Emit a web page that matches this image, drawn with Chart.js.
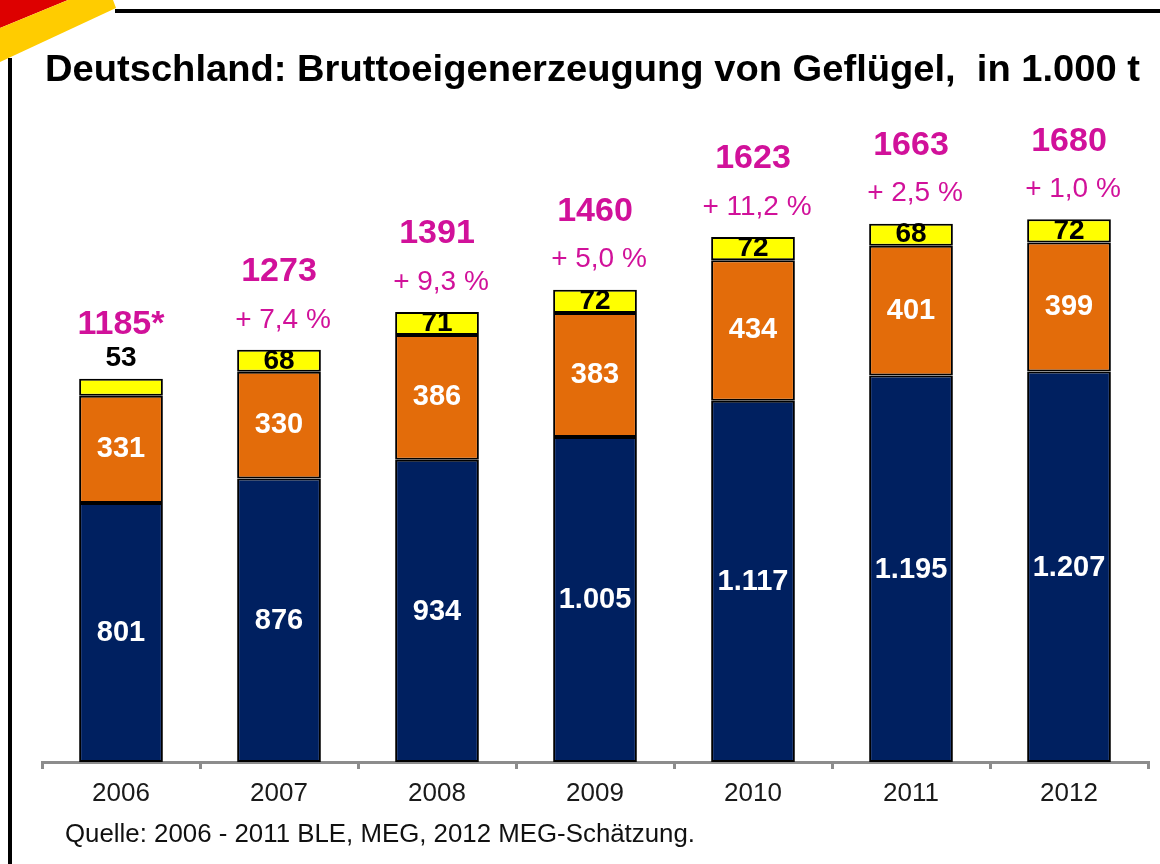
<!DOCTYPE html>
<html>
<head>
<meta charset="utf-8">
<script src="https://cdn.jsdelivr.net/npm/chart.js@4"></script>
<style>
  body { margin: 0; background: #fff; }
  canvas { display: block; }
</style>
</head>
<body>
<canvas id="myChart" width="1160" height="864"></canvas>
<script>
// Data (1.000 t)
const years = ['2006', '2007', '2008', '2009', '2010', '2011', '2012'];
const blueValues = [801, 876, 934, 1005, 1117, 1195, 1207];
const orangeValues = [331, 330, 386, 383, 434, 401, 399];
const yellowValues = [53, 68, 71, 72, 72, 68, 72];
const totalLabels = ['1185*', '1273', '1391', '1460', '1623', '1663', '1680'];
const changeLabels = ['', '+ 7,4 %', '+ 9,3 %', '+ 5,0 %', '+ 11,2 %', '+ 2,5 %', '+ 1,0 %'];

const titleText = 'Deutschland: Bruttoeigenerzeugung von Geflügel,  in 1.000 t';
const sourceText = 'Quelle: 2006 - 2011 BLE, MEG, 2012 MEG-Schätzung.';

const FONT = 'Arial, "Liberation Sans", sans-serif';
const MAGENTA = '#d1119a';

function fmt(v) {
    return v >= 1000 ? Math.floor(v / 1000) + '.' + String(v % 1000).padStart(3, '0') : String(v);
}

// draw text stretched/squeezed to a given width
function fitText(c, text, x, y, width) {
    const w = c.measureText(text).width;
    c.save();
    c.translate(x, y);
    c.scale(width / w, 1);
    c.fillText(text, 0, 0);
    c.restore();
}

// slide frame, flag corner, title, source
const framePlugin = {
    id: 'frame',
    beforeDraw(chart) {
        const c = chart.ctx;
        c.save();
        // flag corner
        c.fillStyle = '#dd0000';
        c.beginPath();
        c.moveTo(0, 0); c.lineTo(68, 0); c.lineTo(0, 28); c.closePath();
        c.fill();
        c.fillStyle = '#ffcc00';
        c.beginPath();
        c.moveTo(68, 0); c.lineTo(113, 0); c.lineTo(116, 8); c.lineTo(0, 62); c.lineTo(0, 28); c.closePath();
        c.fill();
        // frame lines
        c.fillStyle = '#000';
        c.fillRect(115, 9, 1045, 4);
        c.fillRect(8, 58, 4, 806);
        // title
        c.fillStyle = '#000';
        c.font = 'bold 36px ' + FONT;
        c.textBaseline = 'alphabetic';
        c.textAlign = 'left';
        fitText(c, titleText, 45, 81, 1095);
        // source
        c.fillStyle = '#111';
        c.font = '25px ' + FONT;
        fitText(c, sourceText, 65, 842, 630);
        c.restore();
    }
};

// value labels on and above the bars
const labelPlugin = {
    id: 'barLabels',
    afterDatasetsDraw(chart) {
        const c = chart.ctx;
        c.save();
        c.textAlign = 'center';
        c.textBaseline = 'middle';
        const blue = chart.getDatasetMeta(0).data;
        const orange = chart.getDatasetMeta(1).data;
        const yellow = chart.getDatasetMeta(2).data;
        years.forEach((y, i) => {
            const x = blue[i].x;
            c.fillStyle = '#fff';
            c.font = 'bold 29px ' + FONT;
            c.fillText(fmt(blueValues[i]), x, (blue[i].y + blue[i].base) / 2 + 1);
            c.fillText(fmt(orangeValues[i]), x, (orange[i].y + orange[i].base) / 2);
            c.fillStyle = '#000';
            c.font = 'bold 28px ' + FONT;
            const top = yellow[i].y;
            if (i === 0) {
                c.fillText(fmt(yellowValues[i]), x, top - 20);
                c.fillStyle = MAGENTA;
                c.font = 'bold 34px ' + FONT;
                c.fillText(totalLabels[i], x, top - 54);
            } else {
                c.fillText(fmt(yellowValues[i]), x, (top + yellow[i].base) / 2);
                c.fillStyle = MAGENTA;
                c.font = '28px ' + FONT;
                c.fillText(changeLabels[i], x + 4, top - 30);
                c.font = 'bold 34px ' + FONT;
                c.fillText(totalLabels[i], x, top - 78);
            }
        });
        c.restore();
    }
};

const ctx = document.getElementById('myChart').getContext('2d');
const myChart = new Chart(ctx, {
    type: 'bar',
    data: {
        labels: years,
        datasets: [
            { label: 'blue', data: blueValues, backgroundColor: '#002060' },
            { label: 'orange', data: orangeValues, backgroundColor: '#e36c0a' },
            { label: 'yellow', data: yellowValues, backgroundColor: '#ffff00' }
        ]
    },
    options: {
        responsive: false,
        animation: false,
        layout: { padding: { left: 42, right: 12, top: 115, bottom: 0 } },
        datasets: {
            bar: {
                borderColor: '#000',
                borderWidth: 2,
                borderSkipped: false,
                barPercentage: 0.53,
                categoryPercentage: 1
            }
        },
        plugins: {
            legend: { display: false },
            tooltip: { enabled: false }
        },
        scales: {
            x: {
                stacked: true,
                afterFit(scale) { scale.height = 102; },
                grid: {
                    offset: true,
                    drawOnChartArea: false,
                    drawTicks: true,
                    tickLength: 7,
                    color: '#8c8c8c',
                    lineWidth: 3
                },
                border: { display: true, color: '#8c8c8c', width: 3 },
                ticks: {
                    color: '#1a1a1a',
                    padding: 9,
                    font: { family: FONT, size: 26 }
                }
            },
            y: {
                stacked: true,
                display: false,
                min: 0,
                max: 2000
            }
        }
    },
    plugins: [framePlugin, labelPlugin]
});
</script>
</body>
</html>
